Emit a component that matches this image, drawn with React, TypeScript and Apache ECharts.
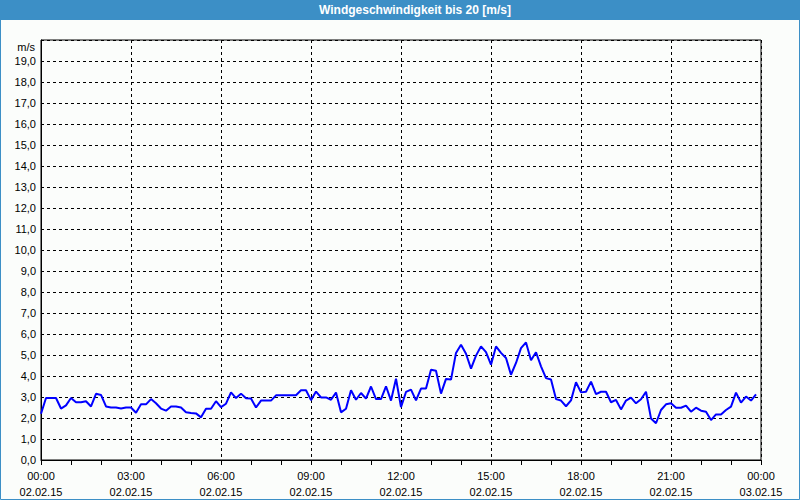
import React, { useEffect, useRef } from "react";
import * as echarts from "echarts";

const TITLE = "Windgeschwindigkeit bis 20 [m/s]";
const Y_UNIT = "m/s";
const START_DATE = "02.02.15";
const END_DATE = "03.02.15";
// wind speed, one reading every 10 minutes from 00:00
const SPEED: number[] = [
  2.2, 2.95, 2.95, 2.95, 2.45, 2.6, 2.95, 2.75, 2.75, 2.8,
  2.55, 3.15, 3.1, 2.55, 2.5, 2.5, 2.45, 2.5, 2.5, 2.25,
  2.65, 2.65, 2.9, 2.7, 2.45, 2.35, 2.55, 2.55, 2.5, 2.27,
  2.24, 2.22, 2.03, 2.44, 2.44, 2.8, 2.52, 2.68, 3.22, 2.95,
  3.16, 2.94, 2.93, 2.5, 2.83, 2.83, 2.83, 3.08, 3.08, 3.08,
  3.08, 3.08, 3.32, 3.32, 2.85, 3.26, 2.98, 2.98, 2.87, 3.21,
  2.27, 2.44, 3.32, 2.87, 3.19, 2.92, 3.5, 2.9, 2.9, 3.51,
  2.83, 3.87, 2.52, 3.24, 3.35, 2.84, 3.4, 3.4, 4.3, 4.25,
  3.16, 3.86, 3.83, 5.1, 5.49, 5.06, 4.35, 4.97, 5.41, 5.14,
  4.54, 5.41, 5.1, 4.86, 4.06, 4.62, 5.33, 5.6, 4.75, 5.13,
  4.46, 3.9, 3.83, 2.9, 2.83, 2.56, 2.84, 3.7, 3.22, 3.25,
  3.73, 3.14, 3.25, 3.25, 2.75, 2.86, 2.41, 2.83, 2.97, 2.7,
  2.89, 3.25, 1.98, 1.75, 2.38, 2.65, 2.7, 2.49, 2.49, 2.59,
  2.3, 2.49, 2.35, 2.3, 1.9, 2.17, 2.17, 2.38, 2.54, 3.21,
  2.73, 3.02, 2.83, 3.13,
];
const STEP_MINUTES = 10;

export default function App() {
  const ref = useRef<HTMLDivElement>(null);
  useEffect(() => {
    if (!ref.current) return;
    const chart = echarts.init(ref.current, null, { renderer: "svg" });
    const data = SPEED.map((v, i) => [(i * STEP_MINUTES) / 60, v]);
    const font = "Liberation Sans";
    chart.setOption({
      animation: false,
      backgroundColor: "#fbfdfb",
      textStyle: { fontFamily: font },
      graphic: [
        {
          type: "rect",
          shape: { x: 0.5, y: 0.5, width: 799, height: 499 },
          style: { fill: "none", stroke: "#3c8fc6", lineWidth: 1 },
          silent: true,
        },
        {
          type: "rect",
          shape: { x: 0, y: 0, width: 800, height: 20 },
          style: { fill: "#3c8fc6" },
          silent: true,
        },
        {
          type: "text",
          x: 415,
          y: 10,
          style: {
            text: TITLE,
            fill: "#ffffff",
            font: `bold 12px "${font}"`,
            align: "center",
            verticalAlign: "middle",
          },
          silent: true,
        },
      ],
      grid: {
        left: 41,
        top: 40,
        right: 39,
        bottom: 39,
        show: true,
        borderColor: "#000",
        borderWidth: 1,
        backgroundColor: "transparent",
      },
      xAxis: {
        type: "value",
        min: 0,
        max: 24,
        interval: 3,
        axisLine: { show: true, lineStyle: { color: "#000", width: 1 } },
        axisTick: { show: true, length: 5, lineStyle: { color: "#000" } },
        minorTick: { show: true, splitNumber: 3, length: 5, lineStyle: { color: "#000" } },
        splitLine: { show: true, lineStyle: { color: "#000", type: [3, 3], width: 1 } },
        axisLabel: {
          color: "#000",
          fontSize: 11,
          fontFamily: font,
          margin: 8,
          lineHeight: 16,
          showMaxLabel: true,
          showMinLabel: true,
          formatter: (h: number) => {
            const hh = h === 24 ? 0 : h;
            const s = (hh < 10 ? "0" : "") + hh + ":00";
            return s + "\n" + (h === 24 ? END_DATE : START_DATE);
          },
        },
      },
      yAxis: {
        type: "value",
        min: 0,
        max: 20,
        interval: 1,
        name: Y_UNIT,
        nameLocation: "end",
        nameGap: -7,
        nameTextStyle: {
          color: "#000",
          fontSize: 11,
          fontFamily: font,
          align: "right",
          verticalAlign: "middle",
          padding: [0, 6, 0, 0],
        },
        axisLine: { show: true, lineStyle: { color: "#000", width: 1 } },
        axisTick: { show: false },
        splitLine: { show: true, lineStyle: { color: "#000", type: [3, 3], width: 1 } },
        axisLabel: {
          color: "#000",
          fontSize: 11,
          fontFamily: font,
          margin: 5,
          formatter: (v: number) => (v >= 20 ? "" : v.toFixed(1).replace(".", ",")),
        },
      },
      series: [
        {
          type: "line",
          data,
          showSymbol: false,
          symbol: "none",
          lineStyle: { color: "#0000ff", width: 2 },
          itemStyle: { color: "#0000ff" },
        },
      ],
    });
    return () => chart.dispose();
  }, []);
  return (
    <div
      ref={ref}
      style={{ position: "fixed", left: 0, top: 0, width: 800, height: 500 }}
    />
  );
}
